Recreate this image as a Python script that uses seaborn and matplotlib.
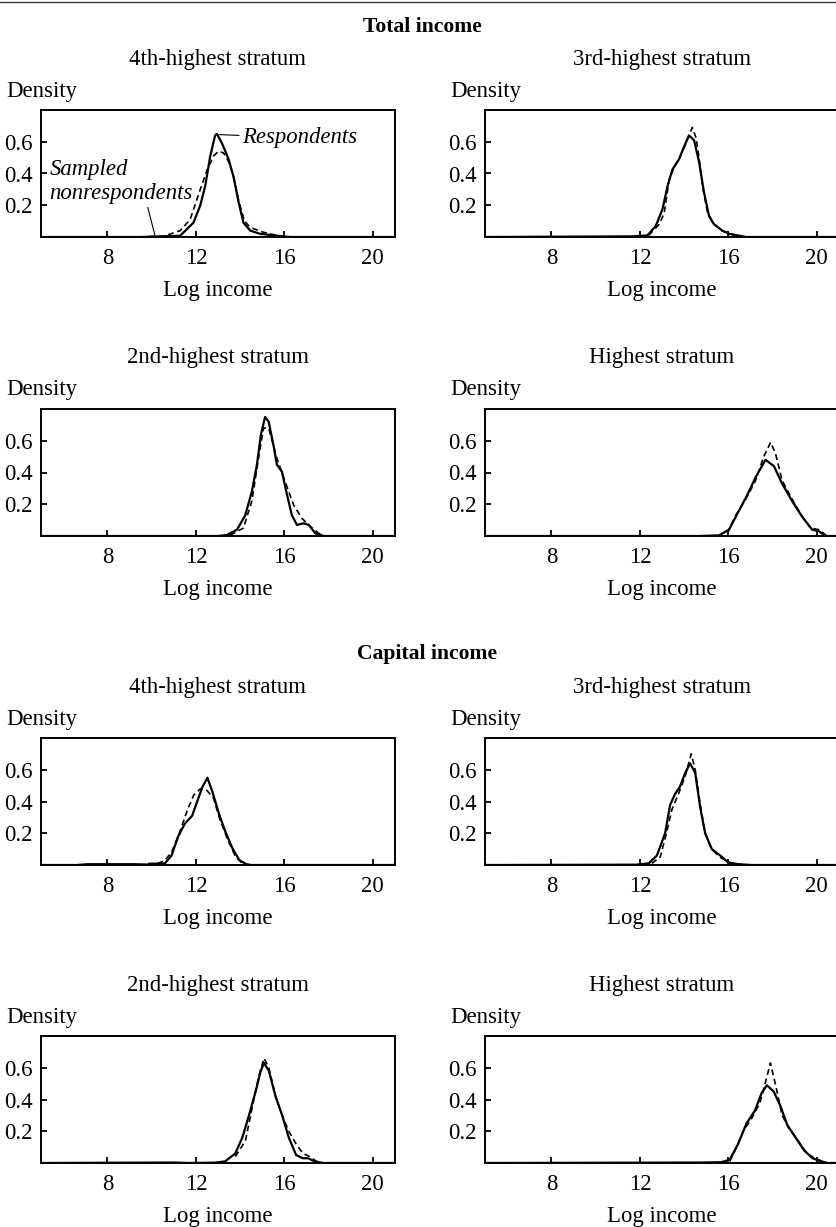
import matplotlib
matplotlib.use("Agg")
import matplotlib.pyplot as plt
import seaborn as sns
import pandas as pd
from matplotlib.lines import Line2D

# ---------------- data ----------------
sections = ["Total income", "Capital income"]
strata = ["4th-highest stratum", "3rd-highest stratum", "2nd-highest stratum", "Highest stratum"]
x_ticks = [8, 12, 16, 20]
y_ticks = [0.2, 0.4, 0.6]
y_tick_labels = ["0.2", "0.4", "0.6"]

# Total income, 4th-highest
tot4_resp_x = [5.0, 9.5, 10.5, 11.29, 11.89, 12.2, 12.42, 12.65, 12.87, 12.95, 13.18, 13.48, 13.7, 13.93, 14.15, 14.46, 14.9, 15.66, 16.27, 21.0]
tot4_resp_y = [0.0, 0.0, 0.004, 0.008, 0.09, 0.20, 0.32, 0.51, 0.64, 0.65, 0.59, 0.49, 0.38, 0.22, 0.09, 0.04, 0.02, 0.008, 0.0, 0.0]
tot4_non_x = [9.9, 10.53, 11.29, 11.74, 12.2, 12.5, 12.8, 13.02, 13.25, 13.5, 13.72, 13.95, 14.2, 14.46, 15.05, 15.66, 15.95]
tot4_non_y = [0.003, 0.004, 0.04, 0.11, 0.30, 0.42, 0.51, 0.54, 0.53, 0.47, 0.37, 0.22, 0.10, 0.06, 0.03, 0.01, 0.003]

# Total income, 3rd-highest
tot3_resp_x = [5.0, 11.67, 12.34, 12.72, 13.02, 13.25, 13.47, 13.77, 14.0, 14.22, 14.45, 14.68, 14.9, 15.13, 15.35, 15.73, 16.03, 16.5, 16.8, 21.0]
tot3_resp_y = [0.0, 0.004, 0.01, 0.07, 0.175, 0.32, 0.425, 0.49, 0.57, 0.64, 0.61, 0.47, 0.28, 0.13, 0.08, 0.04, 0.02, 0.008, 0.0, 0.0]
tot3_non_x = [12.4, 12.87, 13.1, 13.32, 13.55, 13.8, 14.05, 14.37, 14.55, 14.68, 14.83, 15.05, 15.3, 15.7, 16.2, 16.6]
tot3_non_y = [0.01, 0.08, 0.15, 0.36, 0.44, 0.50, 0.58, 0.69, 0.62, 0.49, 0.32, 0.16, 0.09, 0.04, 0.015, 0.0]

# Total income, 2nd-highest
tot2_resp_x = [5.0, 13.0, 13.4, 13.86, 14.23, 14.53, 14.76, 14.94, 15.13, 15.29, 15.51, 15.66, 15.89, 16.12, 16.34, 16.57, 16.87, 17.1, 17.4, 17.78, 21.0]
tot2_resp_y = [0.0, 0.0, 0.006, 0.04, 0.13, 0.28, 0.45, 0.64, 0.75, 0.72, 0.57, 0.45, 0.405, 0.26, 0.13, 0.07, 0.08, 0.07, 0.017, 0.0, 0.0]
tot2_non_x = [13.55, 14.15, 14.53, 14.83, 15.06, 15.29, 15.66, 16.04, 16.42, 16.8, 17.17, 17.55, 17.78]
tot2_non_y = [0.005, 0.05, 0.22, 0.49, 0.68, 0.68, 0.49, 0.34, 0.195, 0.11, 0.06, 0.017, 0.003]

# Total income, highest
tot1_resp_x = [5.0, 14.68, 15.58, 16.03, 16.48, 16.86, 17.23, 17.68, 18.06, 18.43, 18.88, 19.34, 19.79, 20.09, 20.39, 21.0]
tot1_resp_y = [0.0, 0.0, 0.004, 0.04, 0.16, 0.26, 0.37, 0.48, 0.44, 0.33, 0.22, 0.12, 0.04, 0.03, 0.0, 0.0]
tot1_non_x = [15.95, 16.33, 16.78, 17.23, 17.6, 17.91, 18.13, 18.43, 18.81, 19.26, 19.71, 20.09, 20.46]
tot1_non_y = [0.017, 0.13, 0.23, 0.35, 0.50, 0.59, 0.52, 0.35, 0.25, 0.14, 0.05, 0.04, 0.0]

# Capital income, 4th-highest
cap4_resp_x = [5.0, 6.6, 7.1, 8.77, 9.2, 9.84, 10.3, 10.6, 10.9, 11.2, 11.5, 11.83, 12.06, 12.29, 12.52, 12.75, 13.05, 13.36, 13.67, 13.97, 14.28, 14.5, 21.0]
cap4_resp_y = [0.0, 0.0, 0.005, 0.005, 0.005, 0.003, 0.01, 0.01, 0.06, 0.18, 0.26, 0.31, 0.40, 0.49, 0.55, 0.46, 0.32, 0.20, 0.10, 0.03, 0.005, 0.0, 0.0]
cap4_non_x = [9.84, 10.3, 10.6, 10.9, 11.2, 11.6, 11.9, 12.2, 12.5, 12.8, 13.1, 13.5, 13.8, 14.1, 14.4]
cap4_non_y = [0.01, 0.01, 0.03, 0.08, 0.18, 0.34, 0.44, 0.48, 0.47, 0.42, 0.28, 0.14, 0.05, 0.01, 0.0]

# Capital income, 3rd-highest
cap3_resp_x = [5.0, 11.8, 12.4, 12.77, 13.14, 13.37, 13.6, 13.8, 14.05, 14.27, 14.5, 14.73, 14.95, 15.25, 15.63, 16.0, 16.46, 17.06, 21.0]
cap3_resp_y = [0.0, 0.002, 0.01, 0.06, 0.20, 0.38, 0.45, 0.49, 0.58, 0.64, 0.58, 0.36, 0.20, 0.10, 0.06, 0.015, 0.005, 0.0, 0.0]
cap3_non_x = [12.54, 12.92, 13.2, 13.45, 13.75, 14.05, 14.32, 14.5, 14.73, 14.95, 15.25, 15.6, 16.16, 16.76]
cap3_non_y = [0.01, 0.05, 0.20, 0.35, 0.45, 0.56, 0.70, 0.60, 0.38, 0.20, 0.10, 0.05, 0.01, 0.0]

# Capital income, 2nd-highest
cap2_resp_x = [5.0, 11.03, 11.64, 12.86, 13.32, 13.78, 14.1, 14.4, 14.7, 14.93, 15.08, 15.3, 15.6, 15.9, 16.2, 16.53, 16.84, 17.07, 17.37, 17.76, 21.0]
cap2_resp_y = [0.0, 0.003, 0.0, 0.002, 0.01, 0.06, 0.16, 0.30, 0.45, 0.58, 0.63, 0.58, 0.42, 0.30, 0.16, 0.05, 0.03, 0.03, 0.01, 0.0, 0.0]
cap2_non_x = [13.78, 14.24, 14.62, 14.85, 15.08, 15.3, 15.6, 15.9, 16.2, 16.53, 16.84, 17.15, 17.45, 17.76]
cap2_non_y = [0.04, 0.14, 0.40, 0.55, 0.66, 0.60, 0.42, 0.30, 0.20, 0.12, 0.06, 0.04, 0.01, 0.0]

# Capital income, highest
cap1_resp_x = [5.0, 14.76, 15.68, 16.06, 16.44, 16.82, 17.2, 17.5, 17.74, 18.05, 18.35, 18.66, 19.04, 19.42, 19.8, 20.18, 20.5, 21.0]
cap1_resp_y = [0.0, 0.003, 0.005, 0.02, 0.12, 0.25, 0.33, 0.44, 0.49, 0.45, 0.36, 0.24, 0.16, 0.08, 0.03, 0.01, 0.0, 0.0]
cap1_non_x = [16.06, 16.37, 16.67, 17.05, 17.43, 17.66, 17.9, 18.12, 18.43, 18.73, 19.1, 19.5, 19.88, 20.1, 20.4]
cap1_non_y = [0.01, 0.10, 0.20, 0.28, 0.38, 0.50, 0.63, 0.50, 0.30, 0.22, 0.15, 0.07, 0.03, 0.02, 0.0]

curves = [
    (tot4_resp_x, tot4_resp_y, tot4_non_x, tot4_non_y),
    (tot3_resp_x, tot3_resp_y, tot3_non_x, tot3_non_y),
    (tot2_resp_x, tot2_resp_y, tot2_non_x, tot2_non_y),
    (tot1_resp_x, tot1_resp_y, tot1_non_x, tot1_non_y),
    (cap4_resp_x, cap4_resp_y, cap4_non_x, cap4_non_y),
    (cap3_resp_x, cap3_resp_y, cap3_non_x, cap3_non_y),
    (cap2_resp_x, cap2_resp_y, cap2_non_x, cap2_non_y),
    (cap1_resp_x, cap1_resp_y, cap1_non_x, cap1_non_y),
]

# ---------------- style ----------------
sns.set_theme(style="ticks")
plt.rcParams['font.family'] = ['Liberation Serif', 'DejaVu Serif']
FS = 16.4
plt.rcParams.update({
    'axes.linewidth': 1.4,
    'axes.edgecolor': 'black',
    'axes.labelcolor': 'black',
    'xtick.direction': 'in',
    'ytick.direction': 'in',
    'xtick.major.size': 4,
    'ytick.major.size': 4,
    'xtick.major.width': 1.3,
    'ytick.major.width': 1.3,
    'xtick.color': 'black',
    'ytick.color': 'black',
    'text.color': 'black',
})

W, H = 836, 1227
fig = plt.figure(figsize=(W / 100, H / 100), dpi=100)
fig.patch.set_facecolor('white')

lefts = [41, 485]
AW = 354
tops = [110, 409, 738, 1036]
AH = 127

def fx(px):
    return px / W

def fy(py):
    return 1 - py / H

# top rule
fig.add_artist(Line2D([0, 1], [fy(1.5), fy(1.5)], color='#333333', lw=1.0))

# section headings
fig.text(fx(422), fy(27), sections[0], ha='center', va='center', fontsize=15.6, fontweight='bold')
fig.text(fx(427), fy(654), sections[1], ha='center', va='center', fontsize=15.6, fontweight='bold')

for i, (rx, ry, nx, ny) in enumerate(curves):
    row = i // 2
    col = i % 2
    left = lefts[col]
    top = tops[row]
    ax = fig.add_axes([fx(left), fy(top + AH), fx(AW), AH / H])
    ax.set_facecolor('white')

    df = pd.concat([
        pd.DataFrame({'Log income': rx, 'Density': ry, 'group': 'Respondents'}),
        pd.DataFrame({'Log income': nx, 'Density': ny, 'group': 'Sampled nonrespondents'}),
    ], ignore_index=True)
    sns.lineplot(data=df[df.group == 'Sampled nonrespondents'], x='Log income', y='Density',
                 color='black', lw=1.2, linestyle=(0, (3.5, 2.2)), sort=False,
                 estimator=None, ax=ax, legend=False)
    sns.lineplot(data=df[df.group == 'Respondents'], x='Log income', y='Density',
                 color='black', lw=1.6, sort=False, estimator=None, ax=ax, legend=False)

    ax.set_xlim(5, 21)
    ax.set_ylim(0, 0.8)
    ax.set_xticks(x_ticks)
    ax.set_xticklabels([str(t) for t in x_ticks], fontsize=FS)
    ax.set_yticks(y_ticks)
    ax.set_yticklabels(y_tick_labels, fontsize=FS)
    ax.tick_params(axis='x', pad=8)
    ax.tick_params(axis='y', pad=6)
    ax.set_ylabel('')
    ax.set_xlabel('Log income', fontsize=FS, labelpad=8)
    for sp in ax.spines.values():
        sp.set_visible(True)

    # panel title and "Density" label
    fig.text(fx(left + AW / 2), fy(top - 51), strata[row % 2 * 2 + col], ha='center', va='center', fontsize=FS)
    fig.text(fx(left - 35), fy(top - 19), 'Density', ha='left', va='center', fontsize=FS)

    if i == 0:
        ax.annotate('Respondents', xy=(13.05, 0.645), xytext=(14.1, 0.625),
                    fontsize=FS, style='italic', va='center', ha='left',
                    arrowprops=dict(arrowstyle='-', color='black', lw=0.8, shrinkA=0, shrinkB=0))
        ax.annotate('Sampled\nnonrespondents', xy=(10.15, 0.01), xytext=(5.38, 0.35),
                    fontsize=FS, style='italic', va='center', ha='left',
                    arrowprops=dict(arrowstyle='-', color='black', lw=0.8, shrinkA=0, shrinkB=0,
                                    relpos=(0.68, 0.0)))

fig.savefig('out.png', dpi=100, facecolor='white')
